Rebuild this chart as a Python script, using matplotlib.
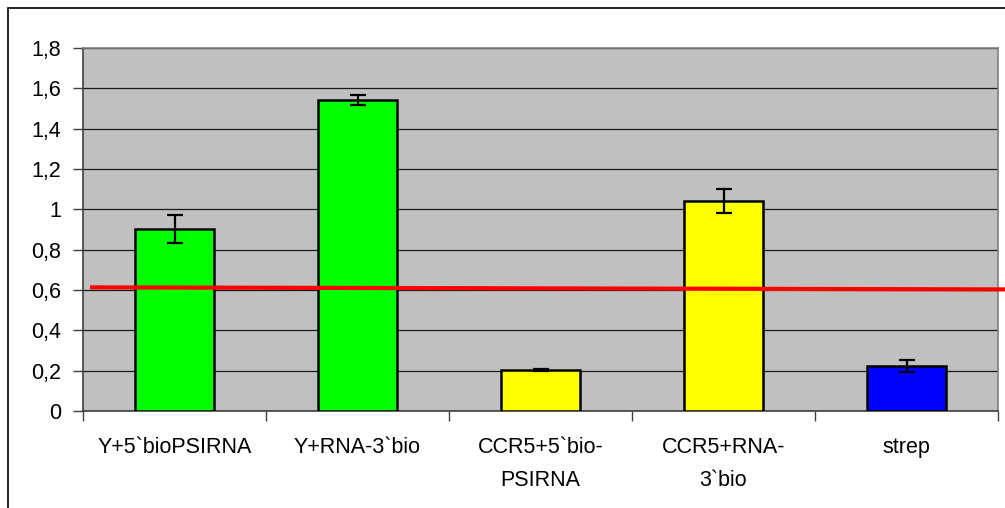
import matplotlib.pyplot as plt
import matplotlib.patches as mpatches
import numpy as np

plt.rcParams['font.family'] = ['Liberation Sans', 'DejaVu Sans']

# data
labels = ["Y+5`bioPSIRNA", "Y+RNA-3`bio", "CCR5+5`bio-\nPSIRNA", "CCR5+RNA-\n3`bio", "strep"]
values = [0.902, 1.543, 0.203, 1.042, 0.224]
errors = [0.068, 0.025, 0.003, 0.060, 0.030]
colors = ['#00ff00', '#00ff00', '#ffff00', '#ffff00', '#0000ff']
# red threshold line (start / end values)
line_x = [-0.45, 4.54]
line_y = [0.613, 0.603]

fig = plt.figure(figsize=(10.05, 5.08), dpi=100)
ax = fig.add_axes([83/1005, 1 - 411/508, (998-83)/1005, (411-48)/508])

# outer chart border
fig.patches.append(mpatches.Rectangle((8/1005, -0.05), 1.1, 1 - 8/508 + 0.05,
                                      transform=fig.transFigure, fill=False,
                                      edgecolor='black', linewidth=1.2))

ax.set_facecolor('#c0c0c0')
x = np.arange(len(labels))
ax.bar(x, values, width=0.437, color=colors, edgecolor='black', linewidth=1.8, zorder=3)
ax.errorbar(x, values, yerr=errors, fmt='none', ecolor='black', elinewidth=1.6,
            capsize=6, capthick=1.6, zorder=4)

ax.plot(line_x, line_y, color='#ff0000', linewidth=3, clip_on=False, zorder=5)

ax.set_ylim(0, 1.8)
ax.set_xlim(-0.5, len(labels) - 0.5)
yt = np.arange(0, 1.81, 0.2)
ax.set_yticks(yt)
ax.set_yticklabels(['0' if v == 0 else ('1' if abs(v - 1) < 1e-9 else f'{v:.1f}'.replace('.', ',')) for v in yt])
ax.yaxis.grid(True, color='#1a1a1a', linewidth=0.9)
ax.set_axisbelow(True)

ax.set_xticks(x)
ax.set_xticklabels(labels, linespacing=1.75)
ax.set_xticks(np.arange(-0.5, len(labels)), minor=True)
ax.tick_params(axis='x', which='major', length=0, pad=19, labelsize=15.5)
ax.tick_params(axis='x', which='minor', length=7, width=1, color='#404040')
ax.tick_params(axis='y', length=7, width=1, color='#404040', pad=9, labelsize=15.5)

for s in ['top', 'right']:
    ax.spines[s].set_color('#808080')
    ax.spines[s].set_linewidth(1.2)
ax.spines['left'].set_color('#404040')
ax.spines['left'].set_linewidth(1.2)
ax.spines['bottom'].set_color('#404040')
ax.spines['bottom'].set_linewidth(1.2)

fig.savefig('out.png', dpi=100)
